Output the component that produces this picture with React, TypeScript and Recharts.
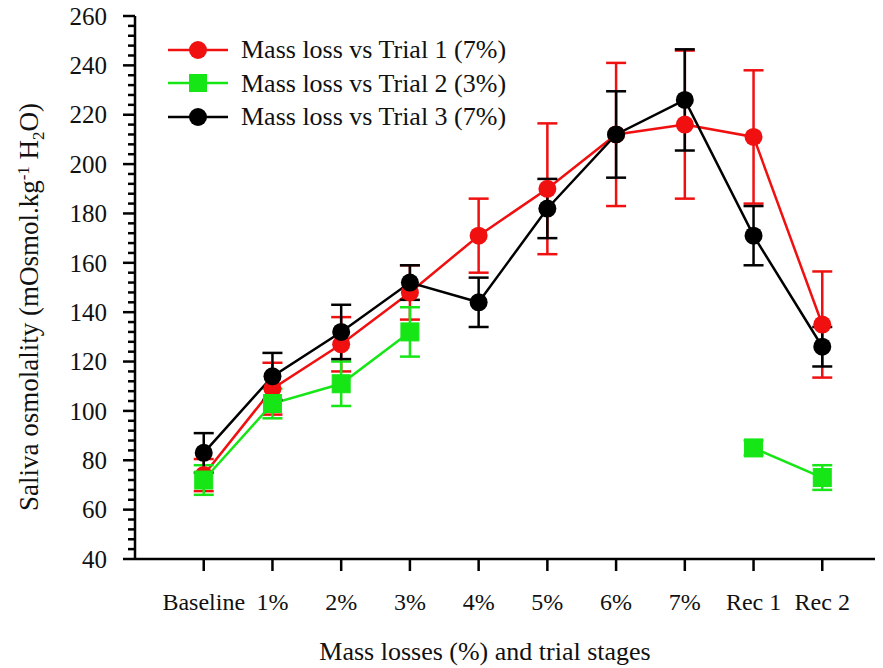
import React from "react";
import { ErrorBar, Legend, Line, LineChart, XAxis, YAxis, Label } from "recharts";

const stages = ["Baseline", "1%", "2%", "3%", "4%", "5%", "6%", "7%", "Rec 1", "Rec 2"];
const trial1 = [74, 109, 127, 148, 171, 190, 212, 216, 211, 135];
const trial1Err = [6.5, 10.5, 11, 11, 15, 26.5, 29, 30, 27, 21.5];
const trial2 = [72, 103, 111, 132, null, null, null, null, 85, 73];
const trial2Err = [6, 6, 9, 10, null, null, null, null, 3, 5];
const trial3 = [83, 114, 132, 152, 144, 182, 212, 226, 171, 126];
const trial3Err = [8, 9.5, 11, 7, 10, 12, 17.5, 20.5, 12, 8];
const yMajorTicks = [40, 60, 80, 100, 120, 140, 160, 180, 200, 220, 240, 260];

const RED = "#f01010";
const GREEN = "#16e616";
const BLACK = "#000000";
const FONT = "Liberation Serif, Times New Roman, serif";

const data = stages.map((s, i) => ({
  x: i,
  stage: s,
  t1: trial1[i],
  t1Err: trial1Err[i],
  t2: trial2[i],
  t2Err: trial2Err[i],
  t3: trial3[i],
  t3Err: trial3Err[i],
}));

// minor ticks every 4 units, majors every 20
const yAllTicks: number[] = [];
for (let v = 40; v <= 260; v += 4) yAllTicks.push(v);

const legendItems = [
  { name: "Mass loss vs Trial 1 (7%)", color: RED, shape: "circle" },
  { name: "Mass loss vs Trial 2 (3%)", color: GREEN, shape: "square" },
  { name: "Mass loss vs Trial 3 (7%)", color: BLACK, shape: "circle" },
];

const YTick = (props: any) => {
  const { x, y, payload } = props;
  const axisX = x + 28;
  const major = payload.value % 20 === 0;
  return (
    <g>
      <line x1={axisX - (major ? 12 : 7)} x2={axisX} y1={y} y2={y} stroke="#000" strokeWidth={2.5} />
      {major && (
        <text x={x} y={y} dy="0.35em" textAnchor="end" fontSize={25} fontFamily={FONT} fill="#111">
          {payload.value}
        </text>
      )}
    </g>
  );
};

const SquareDot = (props: any) => {
  const { cx, cy, index } = props;
  if (cx == null || cy == null || props.value == null) return <g key={`sq-${index}`} />;
  return <rect key={`sq-${index}`} x={cx - 9} y={cy - 9} width={18} height={18} fill={GREEN} stroke={GREEN} strokeWidth={1} />;
};

const renderLegend = () => (
  <div style={{ fontFamily: FONT, fontSize: 26, color: "#111" }}>
    {legendItems.map((item) => (
      <div key={item.name} style={{ display: "flex", alignItems: "center", height: 33.5 }}>
        <svg width={60} height={34} style={{ display: "block" }}>
          <line x1={0} x2={60} y1={17} y2={17} stroke={item.color} strokeWidth={2.5} />
          {item.shape === "circle" ? (
            <circle cx={30} cy={17} r={9} fill={item.color} />
          ) : (
            <rect x={21} y={8} width={18} height={18} fill={item.color} />
          )}
        </svg>
        <span style={{ marginLeft: 13, whiteSpace: "nowrap", lineHeight: "33.5px" }}>{item.name}</span>
      </div>
    ))}
  </div>
);

const XTitle = () => (
  <text x={477} y={652} textAnchor="middle" fontSize={26} fontFamily={FONT} fill="#111">
    Mass losses (%) and trial stages
  </text>
);

const YTitle = () => (
  <text
    x={0}
    y={0}
    transform="translate(30, 299) rotate(-90)"
    textAnchor="middle"
    fontSize={27}
    fontFamily={FONT}
    fill="#111"
  >
    Saliva osmolality (mOsmol.kg
    <tspan dy={-9} fontSize={17}>-1</tspan>
    <tspan dy={9}> H</tspan>
    <tspan dy={6} fontSize={17}>2</tspan>
    <tspan dy={-6}>O)</tspan>
  </text>
);

export default function App() {
  return (
    <div style={{ width: 875, height: 660, overflow: "hidden", background: "#fff" }}>
      <LineChart width={900} height={660} data={data} margin={{ top: 8, right: 17, bottom: 0, left: 0 }}>
        <XAxis
          type="number"
          dataKey="x"
          domain={[-1, 10]}
          ticks={[0, 1, 2, 3, 4, 5, 6, 7, 8, 9]}
          interval={0}
          tickFormatter={(i: number) => stages[i]}
          height={109}
          tickSize={12}
          tickMargin={22}
          axisLine={{ stroke: "#000", strokeWidth: 2.5 }}
          tickLine={{ stroke: "#000", strokeWidth: 2.5 }}
          tick={{ fontSize: 24, fontFamily: FONT, fill: "#111" }}
        >
          <Label content={<XTitle />} />
        </XAxis>
        <XAxis
          xAxisId="top"
          orientation="top"
          type="number"
          domain={[-1, 10]}
          height={0}
          tickLine={false}
          tickFormatter={() => ""}
          axisLine={{ stroke: "#000", strokeWidth: 2.5 }}
        />
        <YAxis
          type="number"
          domain={[40, 260]}
          ticks={yAllTicks}
          interval={0}
          width={127}
          tickSize={12}
          tickMargin={16}
          tickLine={false}
          tick={<YTick />}
          axisLine={{ stroke: "#000", strokeWidth: 2.5 }}
        >
          <Label content={<YTitle />} />
        </YAxis>
        <YAxis
          yAxisId="right"
          orientation="right"
          type="number"
          domain={[40, 260]}
          ticks={yMajorTicks}
          interval={0}
          width={0}
          mirror
          tickSize={12}
          tickFormatter={() => ""}
          tickLine={{ stroke: "#000", strokeWidth: 2.5 }}
          axisLine={{ stroke: "#000", strokeWidth: 2.5 }}
        />
        <Legend
          content={renderLegend}
          layout="vertical"
          verticalAlign="middle"
          align="center"
          wrapperStyle={{ left: 160, top: 25, width: "auto" }}
        />
        <Line
          dataKey="t1"
          stroke={RED}
          strokeWidth={2.5}
          dot={{ r: 9, fill: RED, stroke: RED, strokeWidth: 0 }}
          activeDot={false}
          isAnimationActive={false}
        >
          <ErrorBar dataKey="t1Err" direction="y" width={10} stroke={RED} strokeWidth={2.5} isAnimationActive={false} />
        </Line>
        <Line
          dataKey="t2"
          stroke={GREEN}
          strokeWidth={2.5}
          dot={<SquareDot />}
          activeDot={false}
          connectNulls={false}
          isAnimationActive={false}
        >
          <ErrorBar dataKey="t2Err" direction="y" width={10} stroke={GREEN} strokeWidth={2.5} isAnimationActive={false} />
        </Line>
        <Line
          dataKey="t3"
          stroke={BLACK}
          strokeWidth={2.5}
          dot={{ r: 9, fill: BLACK, stroke: BLACK, strokeWidth: 0 }}
          activeDot={false}
          isAnimationActive={false}
        >
          <ErrorBar dataKey="t3Err" direction="y" width={10} stroke={BLACK} strokeWidth={2.5} isAnimationActive={false} />
        </Line>
      </LineChart>
    </div>
  );
}
